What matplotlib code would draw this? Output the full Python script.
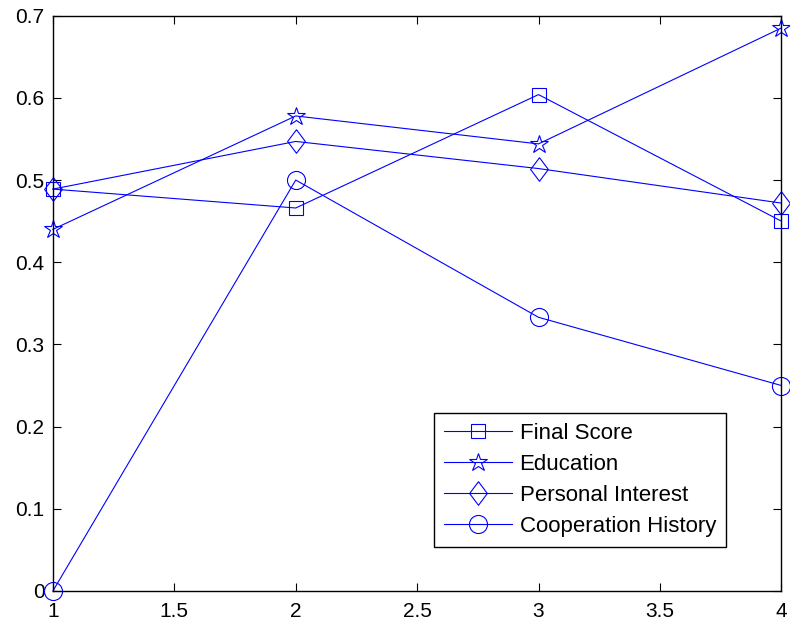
import numpy as np
import matplotlib.pyplot as plt

plt.rcParams['font.family'] = ['Liberation Sans', 'DejaVu Sans']

x = [1, 2, 3, 4]
final_score = [0.489, 0.466, 0.604, 0.450]
education = [0.440, 0.578, 0.544, 0.685]
personal_interest = [0.489, 0.547, 0.514, 0.472]
cooperation_history = [0.0, 0.5, 0.333, 0.25]

labels = ["Final Score", "Education", "Personal Interest", "Cooperation History"]

# matlab style diamond is taller than wide
diamond = [(0, 1), (0.75, 0), (0, -1), (-0.75, 0), (0, 1)]
markers = ["s", "*", diamond, "o"]
sizes = [10.5, 13.5, 17, 13]

fig = plt.figure(figsize=(7.9, 6.28), dpi=100)
ax = fig.add_axes([0.067, 0.059, 0.922, 0.916])

for ys, lab, m, ms in zip([final_score, education, personal_interest, cooperation_history],
                          labels, markers, sizes):
    ax.plot(x, ys, color="blue", lw=0.8, marker=m, ms=ms, mfc="none",
            mec="blue", mew=0.8, label=lab, clip_on=False)

ax.set_xlim(1, 4)
ax.set_ylim(0, 0.7)
ax.set_xticks([1, 1.5, 2, 2.5, 3, 3.5, 4])
ax.set_xticklabels(["1", "1.5", "2", "2.5", "3", "3.5", "4"])
ax.set_yticks(np.arange(0, 0.71, 0.1))
ax.set_yticklabels(["0", "0.1", "0.2", "0.3", "0.4", "0.5", "0.6", "0.7"])
ax.tick_params(direction="in", top=True, right=True, labelsize=15, length=5.5, width=0.8)
ax.tick_params(axis="x", pad=8)
ax.tick_params(axis="y", pad=6)
for s in ax.spines.values():
    s.set_linewidth(1.0)

leg = ax.legend(loc="lower right", bbox_to_anchor=(0.924, 0.0765), fontsize=16,
                fancybox=False, edgecolor="black", framealpha=1,
                handlelength=3.05, handletextpad=0.36, borderpad=0.45,
                labelspacing=0.45, borderaxespad=0)
leg.get_frame().set_linewidth(1.0)

fig.savefig("out.png", dpi=100)
